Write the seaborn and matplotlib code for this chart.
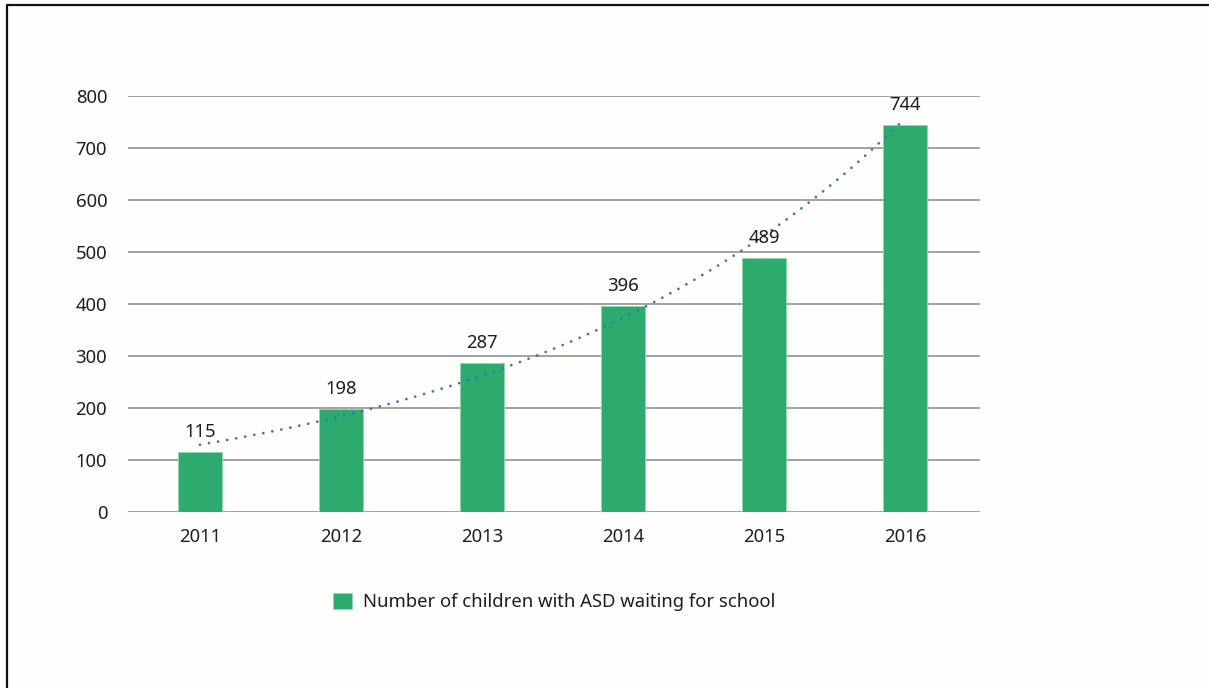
import numpy as np
import matplotlib
matplotlib.use("Agg")
import matplotlib.pyplot as plt
from matplotlib.lines import Line2D
from matplotlib.patches import Patch
import seaborn as sns

years = ["2011", "2012", "2013", "2014", "2015", "2016"]
children_waiting = [115, 198, 287, 396, 489, 744]
y_ticks = [0, 100, 200, 300, 400, 500, 600, 700, 800]
series_label = "Number of children with ASD waiting for school"

bar_color = "#2DAB6F"
trend_color = "#3B72B8"
text_color = "#1E1E1E"
grid_color = "#9A9A9A"

sns.set_theme(style="white")
plt.rcParams["font.family"] = ["Noto Sans", "DejaVu Sans"]
plt.rcParams["font.weight"] = 500
fs = 13.3

fig = plt.figure(figsize=(12.09, 6.88), dpi=100, facecolor="#FEFEFC")
ax = fig.add_axes([0.1059, 0.2558, 0.7047, 0.6047])
ax.set_facecolor("#FEFEFC")

sns.barplot(x=years, y=children_waiting, color=bar_color, width=0.31,
            saturation=1, edgecolor="#8FD6AE", linewidth=0.6, ax=ax, zorder=2)

# exponential trend fitted to the yearly counts
xi = np.arange(len(children_waiting))
b, a = np.polyfit(xi, np.log(children_waiting), 1)
xs = np.linspace(0, len(children_waiting) - 1, 200)
ax.plot(xs, np.exp(a + b * xs), color=trend_color, lw=2.0,
        linestyle=(0, (0.01, 3.3)), dash_capstyle="round", zorder=4)

for i, v in enumerate(children_waiting):
    ax.annotate(f"{v}", xy=(i, v), xytext=(0, 20), textcoords="offset pixels",
                ha="center", va="center", fontsize=fs, color=text_color, zorder=5)

ax.set_xlim(-0.51, 5.53)
ax.set_ylim(0, 800)
ax.set_yticks(y_ticks)
ax.set_yticklabels([str(t) for t in y_ticks])
ax.yaxis.grid(True, color=grid_color, lw=1.3, zorder=0)
ax.set_axisbelow(True)
for s in ax.spines.values():
    s.set_visible(False)
ax.tick_params(axis="y", length=0, pad=15, labelsize=fs, labelcolor=text_color)
ax.tick_params(axis="x", length=0, pad=11.5, labelsize=fs, labelcolor=text_color)
ax.set_xlabel("")
ax.set_ylabel("")

handle = Patch(facecolor=bar_color, edgecolor="#8FD6AE", linewidth=0.6)
fig.legend([handle], [series_label], loc="center", bbox_to_anchor=(554 / 1209, 1 - 602 / 688),
           frameon=False, fontsize=fs, handlelength=1.0, handleheight=1.0,
           handletextpad=0.6, labelcolor=text_color)

# page frame on the left and top edges
fig.add_artist(Line2D([7 / 1209, 7 / 1209], [0, 1 - 5 / 688], color="#111111", lw=1.6,
                      transform=fig.transFigure))
fig.add_artist(Line2D([7 / 1209, 1], [1 - 5 / 688, 1 - 5 / 688], color="#111111", lw=1.6,
                      transform=fig.transFigure))

fig.savefig("out.png", dpi=100, facecolor=fig.get_facecolor())
